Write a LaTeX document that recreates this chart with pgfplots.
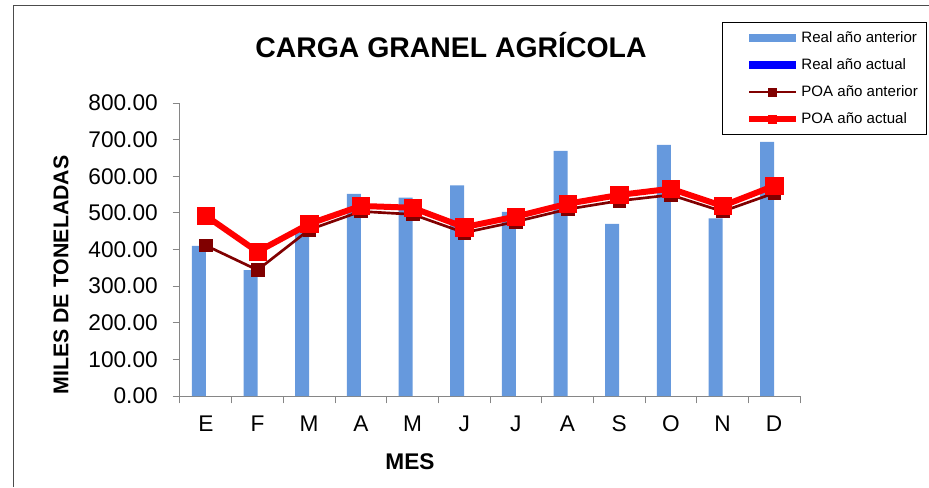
\documentclass[border=0pt]{standalone}
\usepackage{fontspec}
\setmainfont{Liberation Sans}
\usepackage{pgfplots}
\pgfplotsset{compat=1.18}

\definecolor{barblue}{HTML}{6699DD}
\definecolor{realact}{HTML}{0000FF}
\definecolor{poaant}{HTML}{800000}
\definecolor{poaact}{HTML}{FF0000}
\definecolor{axisgray}{HTML}{868686}

\pgfplotsset{
  barlegend/.style={legend image code/.code={
      \path (-13pt,0pt);
      \fill[##1, draw=none] (0pt,-3pt) rectangle (35pt,3pt);}},
  linelegend/.style={legend image code/.code={
      \path (-13pt,0pt);
      \draw[##1] (0pt,0pt) -- (35pt,0pt);
      \draw[##1, mark size=3pt] plot coordinates {(17.5pt,0pt)};}},
}

\begin{document}
\begin{tikzpicture}
\useasboundingbox (0pt,0pt) rectangle (696.75pt,-365.25pt);
\begin{axis}[
    at={(135pt,-297pt)}, anchor=south west,
    scale only axis, width=465pt, height=219.75pt,
    xmin=-0.5, xmax=11.5, ymin=0, ymax=800,
    axis x line*=bottom, axis y line*=left,
    axis line style={axisgray, line width=0.75pt},
    tick style={axisgray, line width=0.75pt},
    tick align=outside, major tick length=5.5pt,
    xtick={-0.5,0.5,...,11.5}, xticklabels={},
    extra x ticks={0,...,11},
    extra x tick labels={E,F,M,A,M,J,J,A,S,O,N,D},
    extra x tick style={major tick length=0pt,
        xticklabel style={anchor=base, yshift=-26.8pt}},
    ytick={0,100,...,800},
    scaled y ticks=false,
    /pgf/number format/assume math mode=true,
    yticklabel style={/pgf/number format/fixed,
        /pgf/number format/fixed zerofill,
        /pgf/number format/precision=2,
        inner xsep=0pt, anchor=east, xshift=-11pt},
    ticklabel style={font=\fontsize{17}{20}\selectfont},
    legend style={at={(0.874,1.2765)}, anchor=north west,
        draw=black, line width=0.75pt, fill=white,
        font=\fontsize{11.3}{13}\selectfont,
        inner xsep=4.75pt, inner ysep=5pt, row sep=6.5pt,
        nodes={inner xsep=2pt}},
    legend cell align=left,
]
\addplot[ybar, bar width=10.5pt, bar shift=-5.25pt, fill=barblue, draw=none, barlegend]
  coordinates {(0,410) (1,344) (2,450) (3,552) (4,542) (5,575)
               (6,503) (7,669) (8,470) (9,686) (10,485) (11,694)};
\addlegendentry{Real año anterior}
\addlegendimage{fill=realact, draw=none, barlegend}
\addlegendentry{Real año actual}
\addplot[color=poaant, line width=2pt, mark=square*,
    mark options={solid, line width=0.4pt}, mark size=4.7pt, linelegend]
  coordinates {(0,411) (1,344) (2,454) (3,504) (4,496) (5,446)
               (6,476) (7,510) (8,533) (9,549) (10,504) (11,554)};
\addlegendentry{POA año anterior}
\addplot[color=poaact, line width=4.5pt, mark=square*,
    mark options={solid, line width=0.4pt}, mark size=6.5pt, linelegend]
  coordinates {(0,492) (1,394) (2,470) (3,519) (4,514) (5,461)
               (6,490) (7,525) (8,549) (9,566) (10,519) (11,574)};
\addlegendentry{POA año actual}
\end{axis}
\begin{scope}[x=0.75pt, y=-0.75pt]
  \draw[black!70, line width=0.75pt] (13.5,487) -- (13.5,5.5) -- (929,5.5);
  \node[anchor=base, font=\bfseries\fontsize{21.3}{25}\selectfont] at (451,57) {CARGA GRANEL AGRÍCOLA};
  \node[rotate=90, font=\bfseries\fontsize{16}{19}\selectfont] at (61,275) {MILES DE TONELADAS};
  \node[font=\bfseries\fontsize{17}{20}\selectfont] at (410,462) {MES};
\end{scope}
\end{tikzpicture}
\end{document}
